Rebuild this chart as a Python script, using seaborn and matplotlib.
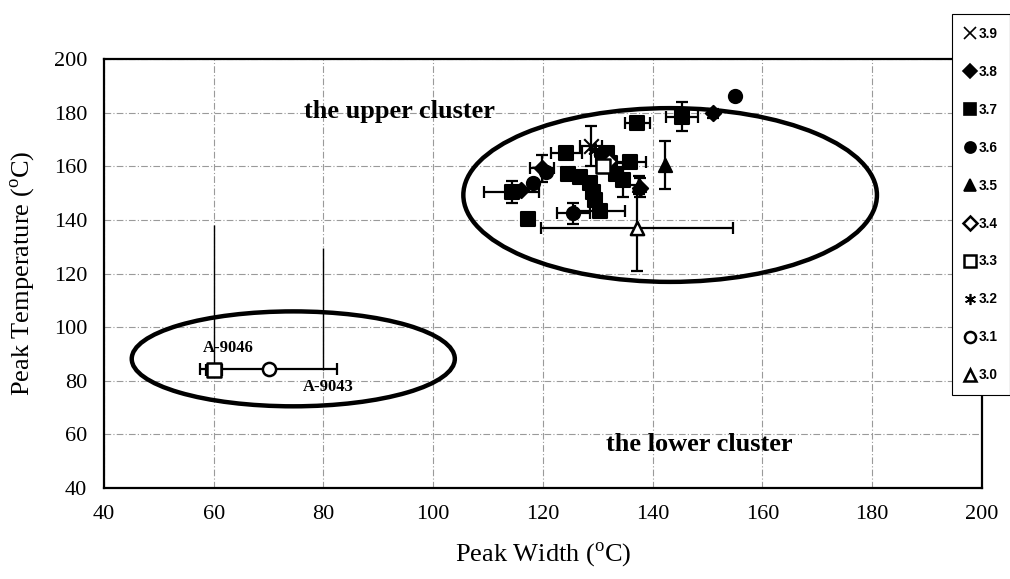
import matplotlib
matplotlib.use("Agg")
import matplotlib.pyplot as plt
from matplotlib.patches import Ellipse
from matplotlib.lines import Line2D
import seaborn as sns
import pandas as pd

# ---------------- data ----------------
x39 = [128.8]; y39 = [167.5]; xe39 = [2.0]; ye39 = [7.5]
x38 = [119.8, 151.0, 137.7, 116.0]; y38 = [159.2, 179.7, 152.0, 151.0]
xe38 = [2.2, 0.0, 0.0, 0.0]; ye38 = [5.0, 1.5, 3.5, 0.0]
x37 = [145.3, 137.2, 124.3, 131.6, 135.8, 114.3, 117.3, 124.6, 126.7, 128.6,
       129.2, 129.5, 131.0, 132.2, 133.4, 134.6, 130.4]
y37 = [178.5, 176.2, 164.8, 164.8, 161.7, 150.5, 140.2, 157.3, 156.1, 153.6,
       150.5, 147.4, 163.5, 161.1, 157.3, 154.9, 143.5]
xe37 = [2.9, 2.3, 2.9, 0.0, 3.0, 5.0, 0.0, 0.0, 0.0, 0.0,
        0.0, 0.0, 0.0, 0.0, 0.0, 0.0, 4.5]
ye37 = [5.3, 2.0, 0.0, 0.0, 0.0, 4.0, 0.0, 0.0, 0.0, 0.0,
        0.0, 0.0, 0.0, 0.0, 0.0, 6.3, 0.0]
x36 = [155.0, 118.2, 125.5, 120.5]; y36 = [186.2, 153.9, 142.5, 158.0]
xe36 = [0.0, 0.0, 3.0, 0.0]; ye36 = [0.0, 0.0, 4.0, 0.0]
x35 = [142.2, 137.5]; y35 = [160.4, 153.0]; xe35 = [0.0, 0.0]; ye35 = [9.0, 3.5]
x34 = [132.0]; y34 = [162.0]; xe34 = [0.0]; ye34 = [0.0]
x33 = [60.0, 131.0]; y33 = [84.0, 160.0]; xe33 = [1.5, 0.0]; ye33 = [0.0, 0.0]
x32 = [129.5]; y32 = [166.0]; xe32 = [0.0]; ye32 = [0.0]
x31 = [70.0]; y31 = [84.5]; xe31 = [12.5]; ye31 = [0.0]
x30 = [137.2]; y30 = [137.0]; xe30 = [17.5]; ye30 = [16.0]

# single-sided vertical bars of the lower cluster samples
vbar_x = [60.0, 80.0]
vbar_lo = [84.0, 84.0]
vbar_hi = [138.0, 129.5]

labels = ["3.9", "3.8", "3.7", "3.6", "3.5", "3.4", "3.3", "3.2", "3.1", "3.0"]

groups = [
    ("3.9", x39, y39, xe39, ye39, "x", True),
    ("3.8", x38, y38, xe38, ye38, "D", True),
    ("3.7", x37, y37, xe37, ye37, "s", True),
    ("3.6", x36, y36, xe36, ye36, "o", True),
    ("3.5", x35, y35, xe35, ye35, "^", True),
    ("3.4", x34, y34, xe34, ye34, "D", False),
    ("3.3", x33, y33, xe33, ye33, "s", False),
    ("3.2", x32, y32, xe32, ye32, (6, 2, 0), True),
    ("3.1", x31, y31, xe31, ye31, "o", False),
    ("3.0", x30, y30, xe30, ye30, "^", False),
]

# ---------------- style ----------------
sns.set_style("white")
plt.rcParams['font.family'] = ['Liberation Serif', 'DejaVu Serif']
plt.rcParams['mathtext.fontset'] = 'custom'
plt.rcParams['mathtext.rm'] = 'Liberation Serif'
plt.rcParams['text.color'] = 'black'
plt.rcParams['axes.labelcolor'] = 'black'
plt.rcParams['xtick.color'] = 'black'
plt.rcParams['ytick.color'] = 'black'

fig = plt.figure(figsize=(10.1, 5.79), dpi=100)
ax = fig.add_axes([0.103, 0.157, 0.869, 0.741])

# error bars
for lab, xs, ys, xe, ye, mk, filled in groups:
    ax.errorbar(xs, ys, xerr=xe, yerr=ye, fmt='none', ecolor='black',
                elinewidth=1.6, capsize=4, capthick=1.6, zorder=3)

ax.vlines(vbar_x, vbar_lo, vbar_hi, colors='black', linewidth=1.0, zorder=3)

# markers
handles = []
for lab, xs, ys, xe, ye, mk, filled in groups:
    df = pd.DataFrame({"x": xs, "y": ys})
    size = 90 if mk not in ("x",) else 110
    if mk == "D":
        size = 60
    if filled:
        sns.scatterplot(data=df, x="x", y="y", marker=mk, s=size, color='black',
                        edgecolor='black', linewidth=1.5, ax=ax, zorder=4, legend=False)
    else:
        sns.scatterplot(data=df, x="x", y="y", marker=mk, s=size, facecolor='white',
                        edgecolor='black', linewidth=1.8, ax=ax, zorder=4, legend=False)
    handles.append(Line2D([], [], linestyle='none', marker=mk, markersize=8 if mk != "D" else 7,
                          markerfacecolor='black' if filled else 'white',
                          markeredgecolor='black', markeredgewidth=1.8 if not filled else 1.2,
                          label=lab))

# ellipses
ax.add_patch(Ellipse((143.2, 149.3), 75.4, 64.8, fill=False, edgecolor='black',
                     linewidth=3.2, zorder=5))
ax.add_patch(Ellipse((74.5, 88.2), 58.9, 35.4, fill=False, edgecolor='black',
                     linewidth=3.2, zorder=5, clip_on=False))

# annotations
ax.text(93.9, 180.5, "the upper cluster", fontsize=19, fontweight='bold',
        ha='center', va='center', zorder=6)
ax.text(148.6, 56.3, "the lower cluster", fontsize=19, fontweight='bold',
        ha='center', va='center', zorder=6)
ax.text(62.7, 92.2, "A-9046", fontsize=12, fontweight='bold', ha='center', va='center', zorder=6)
ax.text(80.8, 77.8, "A-9043", fontsize=12, fontweight='bold', ha='center', va='center', zorder=6)

# axes
ax.set_xlim(40, 200)
ax.set_ylim(40, 200)
ax.set_xticks(range(40, 201, 20))
ax.set_yticks(range(40, 201, 20))
ax.tick_params(axis='both', labelsize=16, length=0, pad=12)
ax.grid(True, color='#9a9a9a', linestyle=(0, (6, 2, 1, 2)), linewidth=0.8)
for s in ax.spines.values():
    s.set_color('black')
    s.set_linewidth(1.6)
ax.set_xlabel(r"Peak Width ($^{\rm o}$C)", fontsize=19, labelpad=12)
ax.set_ylabel(r"Peak Temperature ($^{\rm o}$C)", fontsize=19, labelpad=12)

leg = fig.legend(handles=handles, loc='upper left', bbox_to_anchor=(0.943, 0.975),
                 frameon=True, fancybox=False, edgecolor='black', framealpha=1,
                 prop={'family': 'Liberation Sans', 'weight': 'bold', 'size': 9.8},
                 labelspacing=1.76, handlelength=0.8, handletextpad=0.2,
                 borderpad=0.9, borderaxespad=0)
leg.get_frame().set_linewidth(0.8)

fig.savefig("out.png", dpi=100)
